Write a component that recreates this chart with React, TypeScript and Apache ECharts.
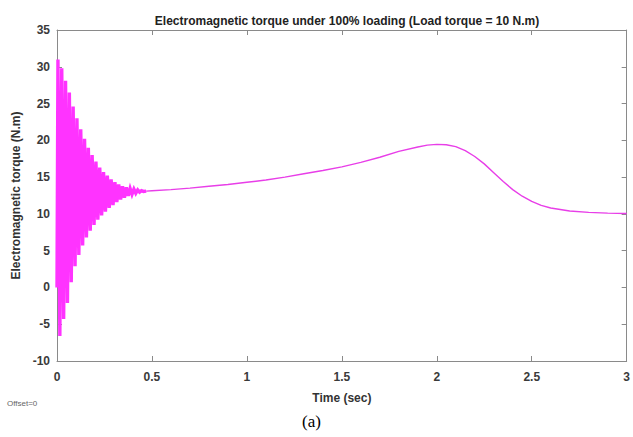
import React, { useEffect, useRef } from "react";
import * as echarts from "echarts";

// Transient (oscillating) part: times (s) and torque (N.m)
const transientTimes = [
  0, 0.005, 0.015, 0.025, 0.035, 0.045, 0.055, 0.065, 0.075, 0.085, 0.095,
  0.105, 0.115, 0.125, 0.135, 0.145, 0.155, 0.165, 0.175, 0.185, 0.195,
  0.205, 0.215, 0.225, 0.235, 0.245, 0.255, 0.265, 0.275, 0.285, 0.295,
  0.305, 0.315, 0.325, 0.335, 0.345, 0.355, 0.365, 0.375, 0.385, 0.395,
  0.405, 0.415, 0.425, 0.435, 0.445, 0.455, 0.47,
];
const transientValues = [
  0, 31.0, -6.6, 29.8, -4.3, 28.1, -2.1, 26.5, 0.7, 24.6, 2.9,
  23.0, 4.4, 21.5, 5.7, 20.2, 6.8, 19.0, 7.7, 18.0, 8.5,
  17.1, 9.2, 16.3, 9.8, 15.7, 10.3, 15.2, 10.8, 14.7, 11.2,
  14.3, 11.6, 14.0, 11.95, 13.75, 12.2, 13.6, 12.45, 13.45, 12.65,
  13.35, 12.8, 13.25, 12.95, 13.15, 13.05, 13.1,
];

// Smooth part after the transient
const smoothTimes = [
  0.47, 0.5, 0.6, 0.7, 0.8, 0.9, 1.0, 1.1, 1.2, 1.3, 1.4, 1.5, 1.6, 1.7,
  1.8, 1.9, 1.95, 2.0, 2.05, 2.1, 2.15, 2.2, 2.25, 2.3, 2.35, 2.4, 2.45,
  2.5, 2.55, 2.6, 2.7, 2.8, 2.9, 3.0,
];
const smoothValues = [
  13.1, 13.15, 13.3, 13.5, 13.75, 14.0, 14.3, 14.6, 15.0, 15.45, 15.9, 16.4,
  17.0, 17.7, 18.5, 19.1, 19.35, 19.45, 19.4, 19.15, 18.6, 17.8, 16.8, 15.6,
  14.4, 13.3, 12.4, 11.7, 11.15, 10.8, 10.4, 10.2, 10.1, 10.05,
];

const xTickValues = [0, 0.5, 1, 1.5, 2, 2.5, 3];
const yTickValues = [-10, -5, 0, 5, 10, 15, 20, 25, 30, 35];

const titleText = "Electromagnetic torque under 100% loading (Load torque = 10 N.m)";
const xName = "Time (sec)";
const yName = "Electromagnetic torque (N.m)";

export default function App() {
  const ref = useRef<HTMLDivElement>(null);

  useEffect(() => {
    if (!ref.current) return;
    const chart = echarts.init(ref.current, null, { renderer: "svg" });

    const transientData = transientTimes.map((t, i) => [t, transientValues[i]]);
    const smoothData = smoothTimes.map((t, i) => [t, smoothValues[i]]);

    const axisColor = "#8a8a8a";
    const labelStyle = {
      color: "#3a3a3a",
      fontFamily: "Liberation Sans, Arial, sans-serif",
      fontWeight: "bold" as const,
      fontSize: 12,
    };

    const xCommon = {
      type: "value" as const,
      min: xTickValues[0],
      max: xTickValues[xTickValues.length - 1],
      interval: 0.5,
      splitLine: { show: false },
      axisLine: { show: true, onZero: false, lineStyle: { color: axisColor, width: 1 } },
      axisTick: { show: true, inside: true, length: 5, lineStyle: { color: axisColor } },
    };
    const yCommon = {
      type: "value" as const,
      min: yTickValues[0],
      max: yTickValues[yTickValues.length - 1],
      interval: 5,
      splitLine: { show: false },
      axisLine: { show: true, onZero: false, lineStyle: { color: axisColor, width: 1 } },
      axisTick: { show: true, inside: true, length: 5, lineStyle: { color: axisColor } },
    };

    chart.setOption({
      animation: false,
      backgroundColor: "#ffffff",
      title: {
        text: titleText,
        left: 342,
        textAlign: "center",
        top: 10,
        textStyle: {
          color: "#222",
          fontFamily: "Liberation Sans, Arial, sans-serif",
          fontWeight: "bold",
          fontSize: 12,
        },
      },
      grid: { left: 57, right: 5, top: 30, bottom: 76, containLabel: false },
      xAxis: [
        {
          ...xCommon,
          position: "bottom",
          axisLabel: { ...labelStyle, margin: 10 },
          name: xName,
          nameLocation: "middle",
          nameGap: 31,
          nameTextStyle: { ...labelStyle, color: "#333", fontSize: 12 },
        },
        {
          ...xCommon,
          position: "top",
          axisLabel: { show: false },
        },
      ],
      yAxis: [
        {
          ...yCommon,
          position: "left",
          axisLabel: { ...labelStyle, margin: 7 },
          name: yName,
          nameLocation: "middle",
          nameGap: 35,
          nameTextStyle: { ...labelStyle, color: "#333", fontSize: 12 },
        },
        {
          ...yCommon,
          position: "right",
          axisLabel: { show: false },
        },
      ],
      series: [
        {
          type: "line",
          data: transientData,
          showSymbol: false,
          symbol: "none",
          lineStyle: { color: "#ff33ff", width: 3.4, join: "miter" },
          z: 1,
        },
        {
          type: "line",
          data: smoothData,
          showSymbol: false,
          symbol: "none",
          lineStyle: { color: "#e83ee8", width: 1.4 },
          z: 1,
        },
      ],
      graphic: [
        {
          type: "text",
          left: 7,
          top: 399,
          style: {
            text: "Offset=0",
            fill: "#666",
            font: "8px Liberation Sans, Arial, sans-serif",
          },
        },
        {
          type: "text",
          left: 302,
          top: 413,
          style: {
            text: "(a)",
            fill: "#000",
            font: "17px Liberation Serif, Times New Roman, serif",
          },
        },
      ],
    });

    return () => chart.dispose();
  }, []);

  return <div ref={ref} style={{ width: 633, height: 437, position: "absolute", left: 0, top: 0 }} />;
}
